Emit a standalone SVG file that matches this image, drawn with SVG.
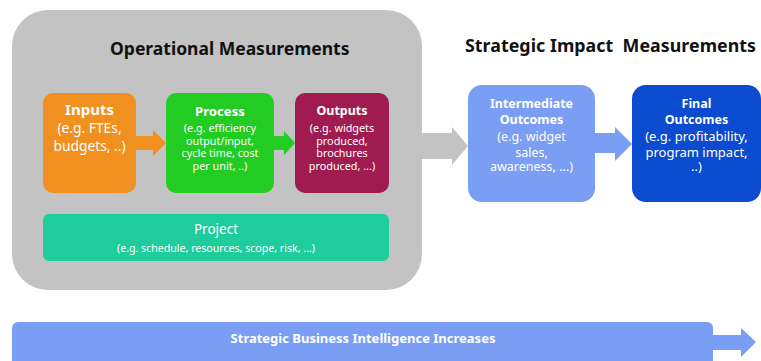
<svg xmlns="http://www.w3.org/2000/svg" width="761" height="361" viewBox="0 0 761 361">
<style>
text{font-family:"Noto Sans","Open Sans","DejaVu Sans",sans-serif;text-anchor:middle;fill:#fff}
.h{font-weight:bold;fill:#111;font-size:17.5px;text-anchor:start}
.t{font-weight:bold;font-size:12.5px}
.s{font-size:10.8px}
.s2{font-size:12.5px}
.s3{font-size:13px}
</style>
<rect width="761" height="361" fill="#fff"/>
<g id="operational">
<rect x="12" y="10" width="410" height="280" rx="36" fill="#C3C3C3"/>
<text class="h" x="110" y="55">Operational Measurements</text>
</g>
<g id="strategic-title">
<text class="h" x="465" y="52" style="font-size:17.8px" textLength="291" lengthAdjust="spacing" xml:space="preserve">Strategic Impact  Measurements</text>
</g>
<g id="connectors">
<polygon points="420,133 452,133 452,127 468,146 452,165 452,159 420,159" fill="#C3C3C3"/>
<polygon points="135,136 153,136 153,130 166,143 153,156 153,150 135,150" fill="#F0901E"/>
<polygon points="273,136 284,136 284,131 295,143 284,155 284,150 273,150" fill="#22CC22"/>
<polygon points="594,133 615,133 615,127 632,144 615,161 615,153 594,153" fill="#7B9EF5"/>
<polygon points="712,335 741,335 741,328 756,342 741,357 741,350 712,350" fill="#7B9EF5"/>
</g>
<g id="inputs">
<rect x="43" y="93" width="93" height="100" rx="10" fill="#F0901E"/>
<text class="t" x="89.5" y="115" style="font-size:15px">Inputs</text>
<text x="89.5" y="133" style="font-size:13.8px">(e.g. FTEs,</text>
<text x="89.5" y="151" style="font-size:13.8px">budgets, ..)</text>
</g>
<g id="process">
<rect x="166" y="93" width="108" height="100" rx="10" fill="#22CC22"/>
<text class="t" x="220" y="116" style="font-size:13.2px">Process</text>
<text class="s" x="220" y="132">(e.g. efficiency</text>
<text class="s" x="220" y="144.5">output/input,</text>
<text class="s" x="220" y="157">cycle time, cost</text>
<text class="s" x="220" y="169.5">per unit, ..)</text>
</g>
<g id="outputs">
<rect x="295" y="93" width="94" height="100" rx="10" fill="#A01C50"/>
<text class="t" x="342" y="115">Outputs</text>
<text class="s" x="342" y="132">(e.g. widgets</text>
<text class="s" x="342" y="144.5">produced,</text>
<text class="s" x="342" y="157">brochures</text>
<text class="s" x="342" y="169.5">produced, ...)</text>
</g>
<g id="project">
<rect x="43" y="214" width="346" height="47" rx="6" fill="#1ECC9C"/>
<text x="216" y="234" style="font-size:13.5px">Project</text>
<text x="216" y="252" style="font-size:10.6px">(e.g. schedule, resources, scope, risk, ...)</text>
</g>
<g id="intermediate">
<rect x="468" y="85" width="127" height="117" rx="14" fill="#7B9EF5"/>
<text class="t" x="531.5" y="108" fill="#E6ECFF">Intermediate</text>
<text class="t" x="531.5" y="124">Outcomes</text>
<text class="s2" x="531.5" y="141">(e.g. widget</text>
<text class="s2" x="531.5" y="157">sales,</text>
<text class="s2" x="531.5" y="171">awareness, ...)</text>
</g>
<g id="final">
<rect x="632" y="85" width="129" height="117" rx="14" fill="#0A4BCF"/>
<text class="t" x="696.5" y="108">Final</text>
<text class="t" x="696.5" y="124">Outcomes</text>
<text class="s3" x="696.5" y="141">(e.g. profitability,</text>
<text class="s3" x="696.5" y="157">program impact,</text>
<text class="s3" x="696.5" y="171">..)</text>
</g>
<g id="bi-bar">
<rect x="12" y="322" width="701" height="45" rx="6" fill="#7B9EF5"/>
<text x="363" y="342.5" style="font-size:13px;font-weight:bold">Strategic Business Intelligence Increases</text>
</g>
</svg>
